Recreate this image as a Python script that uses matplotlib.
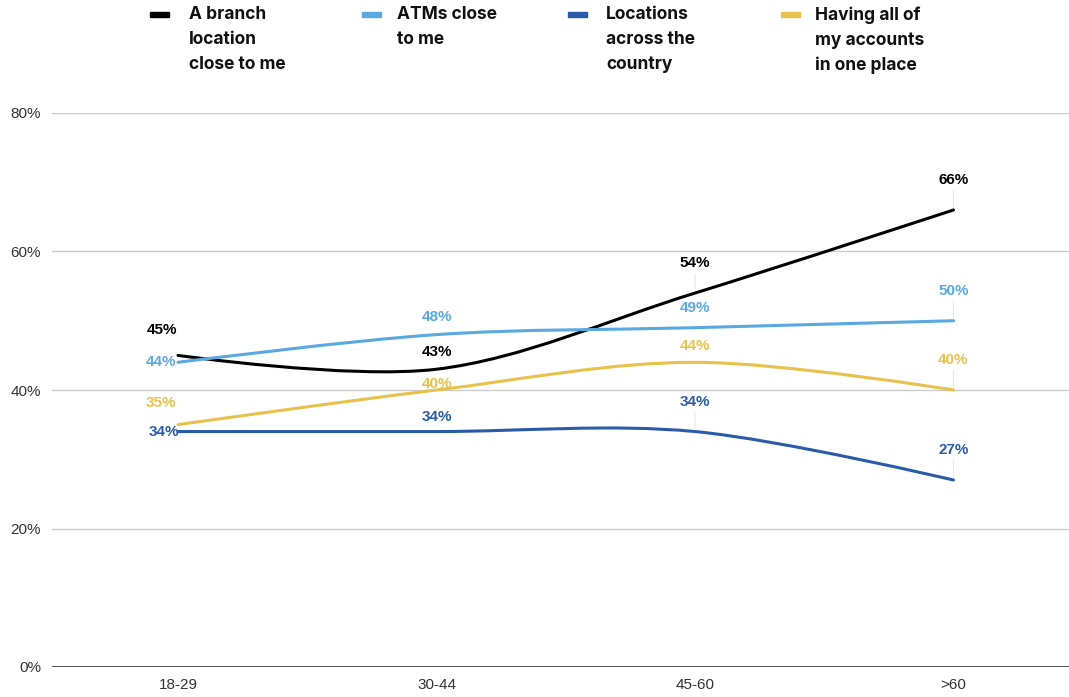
import numpy as np
import matplotlib.pyplot as plt
from matplotlib.path import Path
from matplotlib.patches import PathPatch, Rectangle

# data
age_groups = ["18-29", "30-44", "45-60", ">60"]
series_names = [
    "A branch\nlocation\nclose to me",
    "ATMs close\nto me",
    "Locations\nacross the\ncountry",
    "Having all of\nmy accounts\nin one place",
]
branch_close = [45, 43, 54, 66]
atms_close = [44, 48, 49, 50]
locations_country = [34, 34, 34, 27]
all_accounts = [35, 40, 44, 40]

colors = ["#000000", "#5aa9e0", "#2a5ba8", "#e8c24c"]
all_series = [branch_close, atms_close, locations_country, all_accounts]

# label offsets in pixels (dx, dy) to mimic the collision avoidance
default_off = (0, 30)
label_off = {
    (0, 0): (-16, 25), (1, 0): (-17, 0), (2, 0): (-14, 0), (3, 0): (-17, 22),
    (0, 1): (0, 17), (1, 1): (0, 18), (2, 1): (0, 15), (3, 1): (0, 6),
    (1, 2): (0, 20), (3, 2): (0, 16),
}

plt.rcParams['font.family'] = ['Liberation Sans', 'DejaVu Sans']

fig = plt.figure(figsize=(10.69, 6.97), dpi=100)
ax = fig.add_axes([52 / 1069, 30 / 697, 1 - 52 / 1069, 554 / 697])


def smooth_path(xs, ys):
    # cubic bezier through the points (catmull-rom style tangents)
    n = len(xs)
    verts = [(xs[0], ys[0])]
    codes = [Path.MOVETO]
    for i in range(n - 1):
        if i == 0:
            c1 = (xs[i], ys[i])
        else:
            c1 = (xs[i] + (xs[i + 1] - xs[i - 1]) / 6, ys[i] + (ys[i + 1] - ys[i - 1]) / 6)
        if i + 1 == n - 1:
            c2 = (xs[i + 1], ys[i + 1])
        else:
            c2 = (xs[i + 1] - (xs[i + 2] - xs[i]) / 6, ys[i + 1] - (ys[i + 2] - ys[i]) / 6)
        verts += [c1, c2, (xs[i + 1], ys[i + 1])]
        codes += [Path.CURVE4] * 3
    return Path(verts, codes)


x = np.arange(len(age_groups))

# grid
for v in [20, 40, 60, 80]:
    ax.axhline(v, color="#cccccc", lw=1, zorder=0)
ax.axhline(0, color="#333333", lw=1.2, zorder=1)

# thin leader lines from label down to the point
for s_idx, ys in enumerate(all_series):
    for i in range(len(ys)):
        dx, dy = label_off.get((s_idx, i), default_off)
        if dx == 0 and dy >= 25:
            ax.annotate("", xy=(x[i], ys[i]), xytext=(0, dy - 8), textcoords="offset pixels",
                        arrowprops=dict(arrowstyle="-", color="#e6e6e6", lw=0.8), zorder=1)

for s_idx, ys in enumerate(all_series):
    p = smooth_path(list(x.astype(float)), [float(v) for v in ys])
    ax.add_patch(PathPatch(p, fill=False, edgecolor=colors[s_idx], lw=2.2, zorder=3,
                           capstyle="round"))
    for i, v in enumerate(ys):
        dx, dy = label_off.get((s_idx, i), default_off)
        ax.annotate(f"{v}%", xy=(x[i], v), xytext=(dx, dy), textcoords="offset pixels",
                    ha="center", va="center", fontsize=11, fontweight="bold",
                    color=colors[s_idx], zorder=4)

ax.set_xlim((52 - 178) / 258.5, (1069 - 178) / 258.5)
ax.set_ylim(0, 80)
ax.set_yticks([0, 20, 40, 60, 80])
ax.set_yticklabels([f"{t}%" for t in [0, 20, 40, 60, 80]])
ax.set_xticks(x)
ax.set_xticklabels(age_groups)
ax.tick_params(length=0, labelsize=11, labelcolor="#333333")
ax.tick_params(axis="y", pad=8)
ax.tick_params(axis="x", pad=8)
for sp in ax.spines.values():
    sp.set_visible(False)

# legend drawn by hand
marker_x = [150, 362, 568, 781]
text_x = [189, 397, 606, 815]
for i in range(4):
    fig.add_artist(Rectangle((marker_x[i] / 1069, (697 - 17) / 697), 19 / 1069, 5 / 697,
                             transform=fig.transFigure, color=colors[i]))
    fig.text(text_x[i] / 1069, (697 - 6) / 697, series_names[i], ha="left", va="top",
             fontsize=12.5, fontweight="bold", family=["Inter", "DejaVu Sans"],
             linespacing=1.62, color="#111111")

fig.savefig("out.png", dpi=100)
